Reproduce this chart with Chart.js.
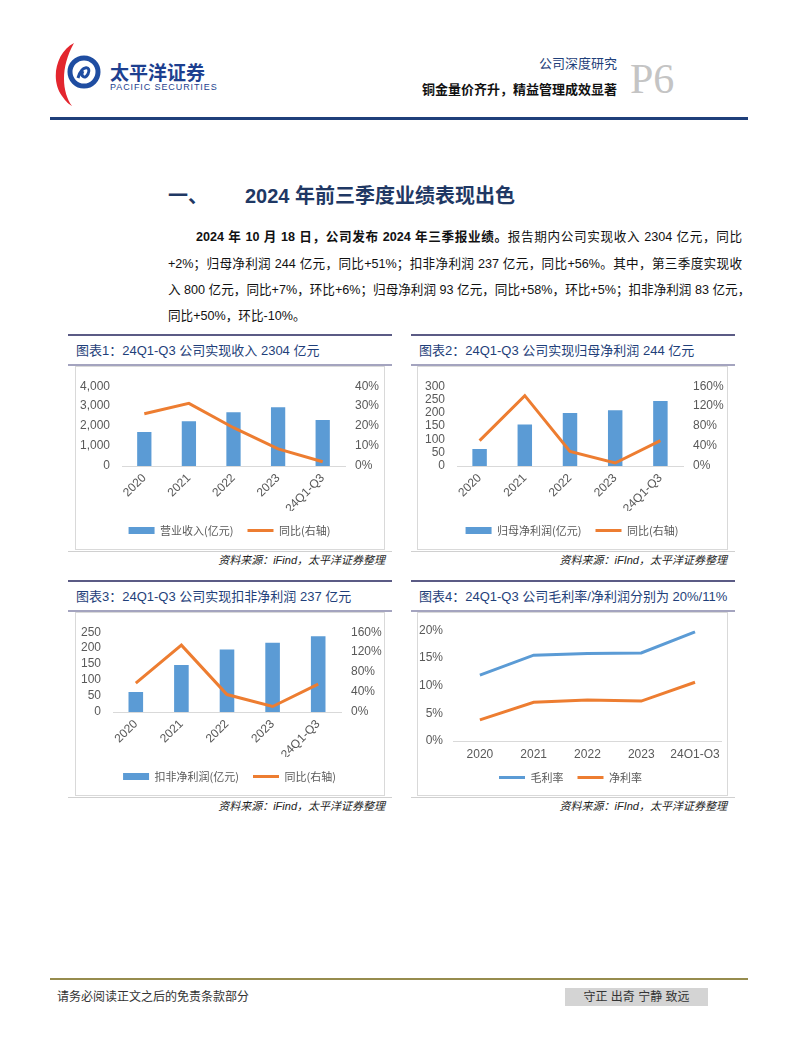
<!DOCTYPE html>
<html>
<head>
<meta charset="utf-8">
<script src="https://cdn.jsdelivr.net/npm/chart.js@4.4.1/dist/chart.umd.min.js"></script>
<style>
  body { margin:0; background:#fff; font-family:"Liberation Sans","Noto Sans CJK SC",sans-serif; }
  #page { position:relative; width:802px; height:1037px; overflow:hidden; background:#fff; }
  .abs { position:absolute; white-space:nowrap; }
  .hline { position:absolute; }
  .ttl { position:absolute; font-size:13px; line-height:16px; color:#1f3f7a; white-space:nowrap; }
  .box { position:absolute; border:1px solid #d9d9d9; box-sizing:border-box; }
  .src { position:absolute; font-size:11px; line-height:14px; font-style:italic; color:#222; white-space:nowrap; text-align:right; }
  .para { position:absolute; left:168px; width:574px; font-size:12.6px; line-height:20px; color:#111; white-space:nowrap; }
  .just { text-align:justify; text-align-last:justify; }
  canvas { position:absolute; }
</style>
</head>
<body>
<div id="page">
  <!-- header -->
  <svg class="abs" style="left:52px;top:40px" width="60" height="70" viewBox="0 0 60 70">
    <path d="M22 3 C4 12 -2 40 10 56 C14 62 18 65 20 66 C10 52 8 28 22 3 Z" fill="#e3262e"/>
    <circle cx="32" cy="32" r="14" fill="none" stroke="#1f4da1" stroke-width="5"/>
    <path d="M26 38 C30 24 40 26 36 34 C33 40 28 36 31 31" fill="none" stroke="#1f4da1" stroke-width="3"/>
  </svg>
  <div class="abs" style="left:110px;top:61px;font-size:19px;line-height:22px;font-weight:bold;color:#1d3f8f;font-family:'Noto Sans CJK SC'">太平洋证券</div>
  <div class="abs" style="left:110px;top:82px;font-size:9px;line-height:11px;letter-spacing:0.9px;color:#1d3f8f">PACIFIC SECURITIES</div>
  <div class="abs" style="right:185px;top:56px;font-size:13px;line-height:16px;color:#1f3f7a">公司深度研究</div>
  <div class="abs" style="right:185px;top:82px;font-size:13px;line-height:16px;font-weight:bold;color:#111">铜金量价齐升，精益管理成效显著</div>
  <div class="abs" style="left:630px;top:54px;font-size:42px;line-height:50px;color:#c4c4c4;font-family:'Liberation Serif',serif">P6</div>
  <div class="hline" style="left:50px;top:117px;width:698px;height:3px;background:#1f3f7a"></div>

  <!-- section heading and text -->
  <div class="abs" style="left:168px;top:184px;font-size:20px;line-height:24px;font-weight:bold;color:#1f3864">一、</div>
  <div class="abs" style="left:245px;top:184px;font-size:20px;line-height:24px;font-weight:bold;color:#1f3864">2024 年前三季度业绩表现出色</div>

  <div class="para just" style="top:227px;left:196px;width:546px"><b>2024 年 10 月 18 日，公司发布 2024 年三季报业绩。</b>报告期内公司实现收入 2304 亿元，同比</div>
  <div class="para just" style="top:254px">+2%；归母净利润 244 亿元，同比+51%；扣非净利润 237 亿元，同比+56%。其中，第三季度实现收</div>
  <div class="para just" style="top:280px">入 800 亿元，同比+7%，环比+6%；归母净利润 93 亿元，同比+58%，环比+5%；扣非净利润 83 亿元，</div>
  <div class="para" style="top:306px">同比+50%，环比-10%。</div>

  <!-- chart 1 panel -->
  <div class="hline" style="left:68px;top:334px;width:324px;height:2px;background:#5b5b85"></div>
  <div class="ttl" style="left:76px;top:343px">图表1：24Q1-Q3 公司实现收入 2304 亿元</div>
  <div class="hline" style="left:68px;top:364px;width:324px;height:2px;background:#a4a4bf"></div>
  <div class="box" style="left:75px;top:366px;width:310px;height:184px"></div>
  <canvas id="c1" width="307" height="181" style="left:76px;top:367px"></canvas>
  <div class="hline" style="left:68px;top:551px;width:324px;height:1px;background:#d0d0d0"></div>
  <div class="src" style="right:417px;top:553px">资料来源：iFind，太平洋证券整理</div>

  <!-- chart 2 panel -->
  <div class="hline" style="left:411px;top:334px;width:324px;height:2px;background:#5b5b85"></div>
  <div class="ttl" style="left:419px;top:343px">图表2：24Q1-Q3 公司实现归母净利润 244 亿元</div>
  <div class="hline" style="left:411px;top:364px;width:324px;height:2px;background:#a4a4bf"></div>
  <div class="box" style="left:417px;top:366px;width:311px;height:184px"></div>
  <canvas id="c2" width="308" height="181" style="left:418px;top:367px"></canvas>
  <div class="hline" style="left:411px;top:551px;width:324px;height:1px;background:#d0d0d0"></div>
  <div class="src" style="right:75px;top:553px">资料来源：iFInd，太平洋证券整理</div>

  <!-- chart 3 panel -->
  <div class="hline" style="left:68px;top:580px;width:324px;height:2px;background:#5b5b85"></div>
  <div class="ttl" style="left:76px;top:589px">图表3：24Q1-Q3 公司实现扣非净利润 237 亿元</div>
  <div class="hline" style="left:68px;top:610px;width:324px;height:2px;background:#a4a4bf"></div>
  <div class="box" style="left:75px;top:612px;width:310px;height:184px"></div>
  <canvas id="c3" width="307" height="181" style="left:76px;top:613px"></canvas>
  <div class="hline" style="left:68px;top:797px;width:324px;height:1px;background:#d0d0d0"></div>
  <div class="src" style="right:417px;top:799px">资料来源：iFind，太平洋证券整理</div>

  <!-- chart 4 panel -->
  <div class="hline" style="left:411px;top:580px;width:324px;height:2px;background:#5b5b85"></div>
  <div class="ttl" style="left:419px;top:589px">图表4：24Q1-Q3 公司毛利率/净利润分别为 20%/11%</div>
  <div class="hline" style="left:411px;top:610px;width:324px;height:2px;background:#a4a4bf"></div>
  <div class="box" style="left:417px;top:612px;width:311px;height:184px"></div>
  <canvas id="c4" width="308" height="181" style="left:418px;top:613px"></canvas>
  <div class="hline" style="left:411px;top:797px;width:324px;height:1px;background:#d0d0d0"></div>
  <div class="src" style="right:75px;top:799px">资料来源：iFInd，太平洋证券整理</div>

  <!-- footer -->
  <div class="hline" style="left:50px;top:978px;width:698px;height:2px;background:#968c4e"></div>
  <div class="abs" style="left:57px;top:989px;font-size:12px;line-height:16px;color:#333">请务必阅读正文之后的免责条款部分</div>
  <div class="abs" style="left:565px;top:988px;width:143px;font-size:12px;line-height:18px;color:#333;background:#d4d4d4;text-align:center">守正 出奇 宁静 致远</div>
</div>

<script>
// categories
var years = ['2020', '2021', '2022', '2023', '24Q1-Q3'];

// 营业收入 (亿元) and 同比 (%)
var revenue = [1707, 2244, 2699, 2943, 2304];
var revenueYoy = [26.2, 31.4, 19.2, 8.6, 2.1];

// 归母净利润 (亿元) and 同比 (%)
var netProfit = [64, 156, 199, 210, 244];
var netProfitYoy = [51, 141, 29, 6, 51];

// 扣非净利润 (亿元) and 同比 (%)
var deductedProfit = [63, 147, 196, 217, 237];
var deductedProfitYoy = [58, 134, 35, 11, 56];

// 毛利率 / 净利率 (%)
var grossMargin = [11.9, 15.5, 15.8, 15.9, 19.7];
var netMargin = [3.8, 7.0, 7.4, 7.2, 10.6];

var BLUE = '#5b9bd5';
var ORANGE = '#ed7d31';
var TICK = '#595959';

Chart.defaults.font.family = "'Liberation Sans', 'Noto Sans CJK SC', sans-serif";
Chart.defaults.animation = false;

function legendItems(chart) {
    var items = Chart.defaults.plugins.legend.labels.generateLabels(chart);
    items.forEach(function (it) {
        var ds = chart.data.datasets[it.datasetIndex];
        if ((ds.type || chart.config.type) === 'line') {
            it.pointStyle = 'line';
            it.lineWidth = 3;
            it.strokeStyle = ds.borderColor;
        } else {
            it.pointStyle = 'rect';
            it.lineWidth = 0;
            it.fillStyle = ds.backgroundColor;
        }
    });
    return items;
}

var legendOpts = {
    position: 'bottom',
    labels: {
        usePointStyle: true,
        pointStyleWidth: 26,
        boxHeight: 7,
        padding: 14,
        color: TICK,
        font: { size: 11, family: "'Noto Sans CJK SC', sans-serif" },
        generateLabels: legendItems,
        sort: function (a, b) { return a.datasetIndex - b.datasetIndex; }
    }
};

function comboChart(id, barLabel, bars, yoy, leftMax, leftStep, rightMax, rightStep, leftW, rightW, comma) {
    new Chart(document.getElementById(id), {
        type: 'bar',
        data: {
            labels: years,
            datasets: [
                {
                    type: 'bar',
                    label: barLabel,
                    data: bars,
                    backgroundColor: BLUE,
                    borderWidth: 0,
                    barPercentage: 0.32,
                    categoryPercentage: 1,
                    yAxisID: 'y',
                    order: 2
                },
                {
                    type: 'line',
                    label: '同比(右轴)',
                    data: yoy,
                    borderColor: ORANGE,
                    backgroundColor: ORANGE,
                    borderWidth: 3,
                    pointRadius: 0,
                    tension: 0,
                    yAxisID: 'y1',
                    order: 1
                }
            ]
        },
        options: {
            responsive: false,
            layout: { padding: { top: 2, bottom: 2, left: 0, right: 0 } },
            plugins: { legend: legendOpts, tooltip: { enabled: false } },
            scales: {
                x: {
                    grid: { display: false, drawTicks: false },
                    border: { color: '#d9d9d9' },
                    ticks: { color: TICK, font: { size: 12 }, maxRotation: 45, minRotation: 45, padding: 5 },
                    afterFit: function (s) { s.height = 45; }
                },
                y: {
                    position: 'left',
                    min: 0, max: leftMax,
                    grid: { display: false, drawTicks: false },
                    border: { display: false },
                    ticks: {
                        stepSize: leftStep, autoSkip: false, color: TICK, font: { size: 12 }, padding: 12,
                        callback: function (v) { return comma ? v.toLocaleString('en-US') : v; }
                    },
                    afterFit: function (s) { s.width = leftW; }
                },
                y1: {
                    position: 'right',
                    min: 0, max: rightMax,
                    grid: { display: false, drawTicks: false },
                    border: { display: false },
                    ticks: {
                        stepSize: rightStep, autoSkip: false, color: TICK, font: { size: 12 }, padding: 10,
                        callback: function (v) { return v + '%'; }
                    },
                    afterFit: function (s) { s.width = rightW; }
                }
            }
        }
    });
}

comboChart('c1', '营业收入(亿元)', revenue, revenueYoy, 4000, 1000, 40, 10, 46, 38, true);
comboChart('c2', '归母净利润(亿元)', netProfit, netProfitYoy, 300, 50, 160, 40, 39, 43, false);
comboChart('c3', '扣非净利润(亿元)', deductedProfit, deductedProfitYoy, 250, 50, 160, 40, 37, 42, false);

new Chart(document.getElementById('c4'), {
    type: 'line',
    data: {
        labels: years,
        datasets: [
            { label: '毛利率', data: grossMargin, borderColor: BLUE, backgroundColor: BLUE, borderWidth: 3, pointRadius: 0, tension: 0 },
            { label: '净利率', data: netMargin, borderColor: ORANGE, backgroundColor: ORANGE, borderWidth: 3, pointRadius: 0, tension: 0 }
        ]
    },
    options: {
        responsive: false,
        layout: { padding: { top: 2, bottom: 1, left: 0, right: 3 } },
        plugins: { legend: legendOpts, tooltip: { enabled: false } },
        scales: {
            x: {
                offset: true,
                grid: { display: false, drawTicks: false },
                border: { color: '#d9d9d9' },
                ticks: { color: TICK, font: { size: 12 }, maxRotation: 0, padding: 6 },
                afterFit: function (s) { s.height = 17; }
            },
            y: {
                min: 0, max: 20,
                grid: { display: false, drawTicks: false },
                border: { display: false },
                ticks: {
                    stepSize: 5, color: TICK, font: { size: 12 }, padding: 10,
                    callback: function (v) { return v + '%'; }
                },
                afterFit: function (s) { s.width = 35; }
            }
        }
    }
});
</script>
</body>
</html>
